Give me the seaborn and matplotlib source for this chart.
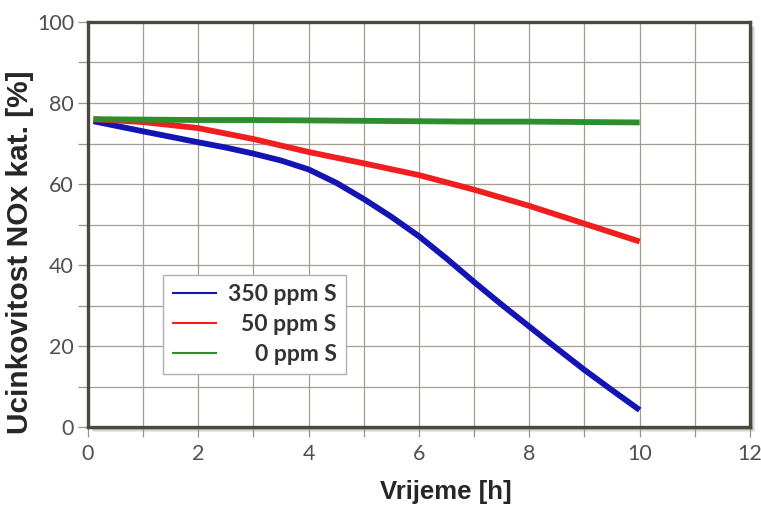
import numpy as np
import pandas as pd
import matplotlib
matplotlib.use("Agg")
import matplotlib.pyplot as plt
import matplotlib.transforms as mtransforms
from matplotlib.patches import Rectangle
from matplotlib.ticker import MultipleLocator
import seaborn as sns

# data
vrijeme_350 = [0.1, 1, 2, 2.5, 3, 3.5, 4, 4.5, 5, 5.5, 6, 6.5, 7, 7.5, 8, 8.5, 9, 9.5, 10]
s350 = [75.5, 73.0, 70.3, 69.0, 67.5, 65.8, 63.6, 60.3, 56.3, 51.9, 47.1, 41.6, 35.8,
        30.2, 24.8, 19.4, 14.1, 9.1, 4.2]
vrijeme = [0.1, 1, 2, 3, 4, 5, 6, 7, 8, 9, 10]
s50 = [76.0, 75.3, 73.8, 71.1, 67.9, 65.1, 62.2, 58.6, 54.6, 50.2, 45.8]
s0 = [76.0, 75.9, 75.8, 75.8, 75.7, 75.6, 75.5, 75.4, 75.4, 75.3, 75.2]
series_names = ["350 ppm S", "50 ppm S", "0 ppm S"]
colors = ["#1414b4", "#f01e1e", "#2e8e2e"]

df = pd.concat([
    pd.DataFrame({"Vrijeme": vrijeme_350, "Ucinkovitost": s350, "Sumpor": series_names[0]}),
    pd.DataFrame({"Vrijeme": vrijeme, "Ucinkovitost": s50, "Sumpor": series_names[1]}),
    pd.DataFrame({"Vrijeme": vrijeme, "Ucinkovitost": s0, "Sumpor": series_names[2]}),
])

sns.set_style("white")
fig = plt.figure(figsize=(7.61, 5.08), dpi=100)
ax = fig.add_axes([0.1156, 0.1594, 0.8699, 0.7973])

sns.lineplot(data=df, x="Vrijeme", y="Ucinkovitost", hue="Sumpor",
             hue_order=series_names, palette=colors, linewidth=4.2,
             ax=ax, sort=False, solid_capstyle="butt", solid_joinstyle="round")

ax.set_xlim(0, 12)
ax.set_ylim(0, 100)
ax.xaxis.set_major_locator(MultipleLocator(2))
ax.xaxis.set_minor_locator(MultipleLocator(1))
ax.yaxis.set_major_locator(MultipleLocator(20))
ax.yaxis.set_minor_locator(MultipleLocator(10))
ax.grid(True, which="both", color="#a39d94", linewidth=0.9)
ax.set_axisbelow(True)

for s in ax.spines.values():
    s.set_color("#4a4a3c")
    s.set_linewidth(2.4)
    s.set_visible(True)

ax.tick_params(which="both", direction="out", length=7, width=0.9, color="#9a968e",
               labelsize=15.5, labelcolor="#505050", left=True, bottom=True)
ax.tick_params(axis="y", which="both", pad=3)
ax.tick_params(axis="x", which="both", pad=5)
for lab in ax.get_xticklabels() + ax.get_yticklabels():
    lab.set_fontfamily(["Lato", "DejaVu Sans"])
    lab.set_fontweight("normal")

ax.set_xlabel("Vrijeme [h]", fontsize=18.5, fontweight="bold",
              family=["Liberation Sans", "DejaVu Sans"])
ax.set_ylabel("Ucinkovitost NOx kat. [%]", fontsize=21.5, fontweight="bold",
              family=["Liberation Sans", "DejaVu Sans"])
ax.xaxis.set_label_coords(0.54, -0.13)
ax.yaxis.set_label_coords(-0.082, 0.432)

# soft drop shadow on the bottom/right of the frame
for i, a in enumerate([0.10, 0.12, 0.15, 0.2]):
    off = (5 - i) / 100
    sh = Rectangle((0, 0), 1, 1, facecolor="#3a3a30", edgecolor="none", alpha=a,
                   transform=ax.transAxes + mtransforms.ScaledTranslation(off, -off, fig.dpi_scale_trans),
                   zorder=-1)
    fig.patches.append(sh)

leg = ax.legend(loc="upper left", bbox_to_anchor=(0.113, 0.375), borderaxespad=0,
                frameon=True, fancybox=False, edgecolor="#b0b0b0", framealpha=1,
                handlelength=1.95, handletextpad=0.5, labelspacing=0.38, borderpad=0.4,
                prop={"family": ["Lato", "DejaVu Sans"], "weight": "bold", "size": 16.5})
leg.get_frame().set_linewidth(1.0)
for h in leg.get_lines():
    h.set_linewidth(1.5)
for t in leg.get_texts():
    t.set_color("#333333")

# right-align legend labels
fig.canvas.draw()
renderer = fig.canvas.get_renderer()
widths = [t.get_window_extent(renderer).width for t in leg.get_texts()]
for t, w in zip(leg.get_texts(), widths):
    t.set_position((max(widths) - w, 0))

fig.savefig("out.png", dpi=100, facecolor="white")
